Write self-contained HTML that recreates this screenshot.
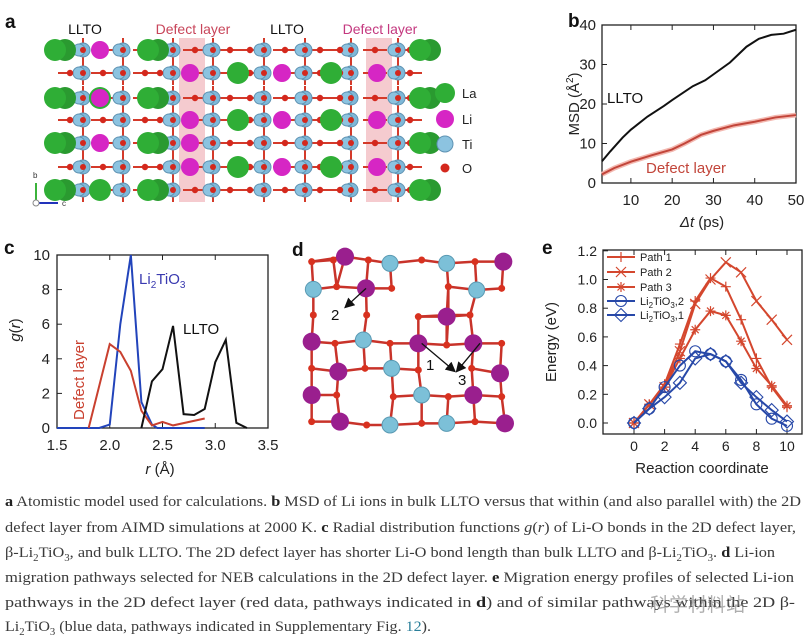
<!DOCTYPE html>
<html><head><meta charset="utf-8">
<style>
html,body{margin:0;padding:0;background:#fff;}
#wrap{position:relative;width:807px;height:644px;overflow:hidden;font-family:"Liberation Sans",Arial,sans-serif;}
svg text{font-family:"Liberation Sans",Arial,sans-serif;}
.cap{position:absolute;left:5px;white-space:nowrap;font-family:"Liberation Serif","Noto Serif CJK SC",serif;font-size:15px;color:#3a3a3a;transform-origin:0 50%;line-height:20px;}
.cap b{color:#222;}
.wm{position:absolute;left:650px;top:590px;font-family:"Noto Sans CJK SC",sans-serif;font-size:19px;color:rgba(120,120,120,0.6);}
</style></head><body>
<div id="wrap">
<svg id="fig" width="807" height="480" viewBox="0 0 807 480" style="position:absolute;left:0;top:0">
  <g id="pa"></g>
  <g id="pb"></g>
  <g id="pc"></g>
  <g id="pd"></g>
  <g id="pe"></g>
</svg>
<div class="cap" style="top:492px"><b>a</b> Atomistic model used for calculations. <b>b</b> MSD of Li ions in bulk LLTO versus that within (and also parallel with) the 2D</div>
<div class="cap" style="top:518px">defect layer from AIMD simulations at 2000 K. <b>c</b> Radial distribution functions <i>g</i>(<i>r</i>) of Li-O bonds in the 2D defect layer,</div>
<div class="cap" style="top:543px">β-Li<sub style="font-size:10px">2</sub>TiO<sub style="font-size:10px">3</sub>, and bulk LLTO. The 2D defect layer has shorter Li-O bond length than bulk LLTO and β-Li<sub style="font-size:10px">2</sub>TiO<sub style="font-size:10px">3</sub>. <b>d</b> Li-ion</div>
<div class="cap" style="top:568px">migration pathways selected for NEB calculations in the 2D defect layer. <b>e</b> Migration energy profiles of selected Li-ion</div>
<div class="cap" style="top:593px">pathways in the 2D defect layer (red data, pathways indicated in <b>d</b>) and of similar pathways within the 2D β-</div>
<div class="cap" style="top:617px">Li<sub style="font-size:10px">2</sub>TiO<sub style="font-size:10px">3</sub> (blue data, pathways indicated in Supplementary Fig. <span style="color:#2a7f9a">12</span>).</div>
<div class="wm">科学材料站</div>
</div>
<script>
var NS="http://www.w3.org/2000/svg";
function el(parent,tag,attrs,txt){var e=document.createElementNS(NS,tag);for(var k in attrs)e.setAttribute(k,attrs[k]);if(txt!==undefined)e.textContent=txt;parent.appendChild(e);return e;}

/* ---------- Panel b data ---------- */
var bTicksX=[10,20,30,40,50];
var bTicksY=[0,10,20,30,40];
var bLltoT=[3,5,8,10,14,18,20,25,28,30,34,38,41,44,47,50];
var bLltoMsd=[5.5,8,11.5,13.5,16.8,19.5,21,24.5,26,27.5,30.5,34.5,36.5,37.5,37.8,38.8];
var bDefT=[3,6,10,15,20,23,27,30,35,40,45,50];
var bDefMsd=[2.2,3.8,5.4,7,8.5,10,12.2,13.2,14.6,15.5,16.6,17.2];

/* ---------- Panel c data ---------- */
var cTicksX=[1.5,2.0,2.5,3.0,3.5];
var cTicksY=[0,2,4,6,8,10];
var cLiR=[1.5,1.9,2.0,2.1,2.2,2.3,2.4,2.45,2.9];
var cLiG=[0,0,0.2,6,10,1.5,0.2,0,0];
var cDefR=[1.8,2.0,2.1,2.2,2.3,2.4,2.5,2.6,2.9];
var cDefG=[0,4.85,4.4,3.3,1,0.15,0.35,0.15,0.55];
var cLltoR=[2.3,2.4,2.5,2.6,2.7,2.8,2.9,3.0,3.1,3.2,3.3];
var cLltoG=[0,2.7,3.4,5.9,0.8,0.75,1.1,3.8,5.1,0.3,0];

/* ---------- Panel e data ---------- */
var eTicksX=[0,2,4,6,8,10];
var eTicksY=[0.0,0.2,0.4,0.6,0.8,1.0,1.2];
var eCoord=[0,1,2,3,4,5,6,7,8,9,10];
var ePath1=[0,0.13,0.27,0.55,0.85,1.01,0.95,0.72,0.45,0.25,0.11];
var ePath2=[0,0.13,0.25,0.5,0.83,1.0,1.12,1.05,0.85,0.72,0.58];
var ePath3=[0,0.13,0.25,0.45,0.65,0.78,0.75,0.57,0.38,0.26,0.12];
var eLi2=[0,0.1,0.25,0.4,0.5,0.48,0.43,0.3,0.13,0.03,-0.02];
var eLi1=[0,0.1,0.18,0.28,0.45,0.48,0.43,0.28,0.18,0.09,0.01];

function pts(xs,ys,fx,fy){return xs.map(function(x,i){return fx(x)+","+fy(ys[i]);}).join(" ");}

/* ---------- Panel a (structure illustration) ---------- */
(function(){
  var g=document.getElementById('pa');
  var t=el(g,'text',{x:5,y:28,'font-size':19,'font-weight':'bold',fill:'#111'},'a');
  
  [[85,'LLTO','#111'],[193,'Defect layer','#c8455a'],[287,'LLTO','#111'],[380,'Defect layer','#c4387f']].forEach(function(d){
    var e=el(g,'text',{x:d[0],y:34,'font-size':14,'text-anchor':'middle',fill:d[2]},d[1]);
    
  });
  [[179,205],[366,392]].forEach(function(b){
    var r=el(g,'rect',{x:b[0],y:38,width:b[1]-b[0],height:164,fill:'#f2b9bf',opacity:0.75});
    
  });
  var rows=[50,73,98,120,143,167,190];
  var tiCols=[83,123,173,213,264,305,351,398];
  var oCols=[70,103,145,160,195,230,250,285,320,340,375,410];
  rows.forEach(function(y,ri){
    oCols.forEach(function(x){el(g,'line',{x1:x-12,y1:y,x2:x+12,y2:y,stroke:'#d43a2a','stroke-width':2});});
    tiCols.forEach(function(x){el(g,'line',{x1:x,y1:y-12,x2:x,y2:y+12,stroke:'#d43a2a','stroke-width':2});});
  });
  rows.forEach(function(y,ri){
    tiCols.forEach(function(x){
      el(g,'circle',{cx:x,cy:y,r:7,fill:'#7fb8d8',stroke:'#5f93b3','stroke-width':1});
      el(g,'circle',{cx:x-4,cy:y,r:6,fill:'#8cc3e0',stroke:'#5f93b3','stroke-width':1});
      el(g,'circle',{cx:x,cy:y,r:3,fill:'#d4281d'});
    });
    oCols.forEach(function(x){el(g,'circle',{cx:x,cy:y,r:3.2,fill:'#d4281d'});});
  });
  var big=[];
  [0,2,4,6].forEach(function(ri){big.push([55,rows[ri],'g'],[148,rows[ri],'g'],[100,rows[ri],ri%4==0?'m':'g'],[420,rows[ri],'g']);});
  [1,3,5].forEach(function(ri){big.push([238,rows[ri],'g'],[282,rows[ri],'m'],[331,rows[ri],'g'],[190,rows[ri],'m'],[377,rows[ri],'m']);});
  big.push([100,98,'m'],[190,143,'m']);
  big.forEach(function(b){
    var col=b[2]=='g'?'#2fae36':'#d626c4';
    var r=b[2]=='g'?11:9;
    if(b[2]=='g'&&(b[0]==55||b[0]==148||b[0]==420)){el(g,'circle',{cx:b[0]+10,cy:b[1],r:r,fill:'#2a9a30'});}
    el(g,'circle',{cx:b[0],cy:b[1],r:r,fill:col});
  });
  el(g,'line',{x1:36,y1:203,x2:36,y2:183,stroke:'#3bb33b','stroke-width':2});
  el(g,'line',{x1:36,y1:203,x2:58,y2:203,stroke:'#2233bb','stroke-width':2});
  el(g,'circle',{cx:36,cy:203,r:3,fill:'#fff',stroke:'#888'});
  el(g,'text',{x:33,y:178,'font-size':8,fill:'#333'},'b');
  el(g,'text',{x:62,y:206,'font-size':8,fill:'#333'},'c');
  var leg=[[93,'La','#2fae36',10],[119,'Li','#d626c4',9],[144,'Ti','#8cc3e0',8],[168,'O','#d4281d',4.5]];
  leg.forEach(function(l){
    var c=el(g,'circle',{cx:445,cy:l[0],r:l[3],fill:l[2],stroke:l[1]=='Ti'?'#5f93b3':'none'});
    
    var tx=el(g,'text',{x:462,y:l[0]+5,'font-size':13,fill:'#222'},l[1]);
    
  });
})();

/* ---------- Panel b ---------- */
(function(){
  var g=document.getElementById('pb');
  var L=602,R=796,T=25,B=183;
  function fx(v){return L+(v-3)/47*(R-L);}
  function fy(v){return B-v/40*(B-T);}
  var t=el(g,'text',{x:568,y:27,'font-size':19,'font-weight':'bold',fill:'#111'},'b');
  
  var fr=el(g,'rect',{x:L,y:T,width:R-L,height:B-T,fill:'none',stroke:'#222','stroke-width':1.3});
  
  bTicksX.forEach(function(v){
    el(g,'line',{x1:fx(v),y1:B,x2:fx(v),y2:B-5,stroke:'#222'});
    el(g,'line',{x1:fx(v),y1:T,x2:fx(v),y2:T+5,stroke:'#222'});
    var e=el(g,'text',{x:fx(v),y:B+22,'font-size':15,'text-anchor':'middle',fill:'#222'},v);
    
  });
  bTicksY.forEach(function(v){
    el(g,'line',{x1:L,y1:fy(v),x2:L+5,y2:fy(v),stroke:'#222'});
    var e=el(g,'text',{x:L-6,y:fy(v)+5,'font-size':15,'text-anchor':'end',fill:'#222'},v);
    
  });
  var yt=el(g,'text',{x:0,y:0,'font-size':15,'text-anchor':'middle',fill:'#222',transform:'translate(579,104) rotate(-90)'});
  yt.innerHTML='MSD (Å<tspan dy="-6" font-size="10">2</tspan><tspan dy="6">)</tspan>';
  
  var xt=el(g,'text',{x:702,y:227,'font-size':15,'text-anchor':'middle',fill:'#222'});
  xt.innerHTML='<tspan font-style="italic">Δt</tspan> (ps)';
  
  var h=el(g,'polyline',{points:pts(bDefT,bDefMsd,fx,fy),fill:'none',stroke:'#f3b8b0','stroke-width':5});
  
  var l1=el(g,'polyline',{points:pts(bDefT,bDefMsd,fx,fy),fill:'none',stroke:'#c2453a','stroke-width':2});
  
  var l2=el(g,'polyline',{points:pts(bLltoT,bLltoMsd,fx,fy),fill:'none',stroke:'#111','stroke-width':2});
  
  var a=el(g,'text',{x:607,y:103,'font-size':15,fill:'#111'},'LLTO');
  
  var d=el(g,'text',{x:646,y:173,'font-size':15,fill:'#c2453a'},'Defect layer');
  
})();

/* ---------- Panel c ---------- */
(function(){
  var g=document.getElementById('pc');
  var L=57,R=268,T=255,B=428;
  function fx(v){return L+(v-1.5)/2*(R-L);}
  function fy(v){return B-v/10*(B-T);}
  var t=el(g,'text',{x:4,y:254,'font-size':19,'font-weight':'bold',fill:'#111'},'c');
  
  var fr=el(g,'rect',{x:L,y:T,width:R-L,height:B-T,fill:'none',stroke:'#222','stroke-width':1.3});
  
  cTicksX.forEach(function(v){
    el(g,'line',{x1:fx(v),y1:B,x2:fx(v),y2:B-5,stroke:'#222'});
    el(g,'line',{x1:fx(v),y1:T,x2:fx(v),y2:T+5,stroke:'#222'});
    var e=el(g,'text',{x:fx(v),y:B+22,'font-size':15,'text-anchor':'middle',fill:'#222'},v.toFixed(1));
    
  });
  cTicksY.forEach(function(v){
    el(g,'line',{x1:L,y1:fy(v),x2:L+5,y2:fy(v),stroke:'#222'});
    var e=el(g,'text',{x:L-7,y:fy(v)+5,'font-size':15,'text-anchor':'end',fill:'#222'},v);
    
  });
  var yt=el(g,'text',{x:0,y:0,'font-size':15,'text-anchor':'middle',fill:'#222',transform:'translate(20,330) rotate(-90)'});
  yt.innerHTML='<tspan font-style="italic">g</tspan>(<tspan font-style="italic">r</tspan>)';
  
  var xt=el(g,'text',{x:160,y:474,'font-size':15,'text-anchor':'middle',fill:'#222'});
  xt.innerHTML='<tspan font-style="italic">r</tspan> (Å)';
  
  var a=el(g,'polyline',{points:pts(cLiR,cLiG,fx,fy),fill:'none',stroke:'#2244bb','stroke-width':2});
  
  var b=el(g,'polyline',{points:pts(cDefR,cDefG,fx,fy),fill:'none',stroke:'#c9402f','stroke-width':2});
  
  var c=el(g,'polyline',{points:pts(cLltoR,cLltoG,fx,fy),fill:'none',stroke:'#111','stroke-width':2});
  
  var l1=el(g,'text',{x:139,y:284,'font-size':15,fill:'#3a3ab0'});
  l1.innerHTML='Li<tspan dy="4" font-size="10">2</tspan><tspan dy="-4">TiO</tspan><tspan dy="4" font-size="10">3</tspan>';
  
  var l2=el(g,'text',{x:183,y:334,'font-size':15,fill:'#111'},'LLTO');
  
  var l3=el(g,'text',{x:0,y:0,'font-size':15,'text-anchor':'middle',fill:'#c9402f',transform:'translate(84,380) rotate(-90)'},'Defect layer');
  
})();

/* ---------- Panel d ---------- */
(function(){
  var g=document.getElementById('pd');
  var t=el(g,'text',{x:292,y:256,'font-size':19,'font-weight':'bold',fill:'#111'},'d');
  
  function P(a){return [a[0]/3+290,a[1]/3+240];}
  var purple=[[165,50],[640,65],[228,145],[470,230],[65,305],[385,310],[550,310],[145,395],[630,400],[65,465],[550,465],[150,545],[645,550]].map(P);
  var cyan=[[300,70],[470,70],[70,148],[560,150],[220,300],[305,385],[395,465],[300,555],[470,550]].map(P);
  var ox=[[65,65],[130,60],[235,60],[395,60],[555,65],[140,140],[305,145],[475,140],[635,145],[70,225],[230,225],[385,230],[475,225],[540,225],[135,310],[300,310],[470,315],[635,310],[65,385],[225,385],[385,390],[545,385],[65,545],[230,555],[395,550],[555,545],[310,470],[475,470],[635,470],[140,465]].map(P);
  var all=purple.concat(cyan).concat(ox);
  for(var i=0;i<all.length;i++)for(var j=i+1;j<all.length;j++){
    var dx=Math.abs(all[i][0]-all[j][0]),dy=Math.abs(all[i][1]-all[j][1]);
    if((dx<34&&dy<9)||(dy<34&&dx<9)){
      var bl=el(g,'line',{x1:all[i][0],y1:all[i][1],x2:all[j][0],y2:all[j][1],stroke:'#c8332a','stroke-width':2.5});
      
    }
  }
  ox.forEach(function(p){var c=el(g,'circle',{cx:p[0],cy:p[1],r:3.5,fill:'#d8311f'});});
  cyan.forEach(function(p){var c=el(g,'circle',{cx:p[0],cy:p[1],r:8,fill:'#7cc0d8',stroke:'#5a9ab3'});});
  purple.forEach(function(p){var c=el(g,'circle',{cx:p[0],cy:p[1],r:9,fill:'#9a1f8e'});});
  el(g,'defs',{}).innerHTML='<marker id="ah" markerWidth="8" markerHeight="8" refX="6" refY="4" orient="auto"><path d="M0,0 L8,4 L0,8 z" fill="#111"/></marker>';
  [[[228,145],[168,200]],[[395,310],[492,392]],[[570,310],[502,392]]].forEach(function(a){
    var s=P(a[0]),e=P(a[1]);
    var ar=el(g,'line',{x1:s[0],y1:s[1],x2:e[0],y2:e[1],stroke:'#111','stroke-width':1.3,'marker-end':'url(#ah)'});
    
  });
  [[331,320,'2'],[426,370,'1'],[458,385,'3']].forEach(function(l){
    var e=el(g,'text',{x:l[0],y:l[1],'font-size':15,fill:'#111'},l[2]);
    
  });
})();

/* ---------- Panel e ---------- */
(function(){
  var g=document.getElementById('pe');
  var L=603,R=802,T=250,B=434;
  function fx(v){return 634+v*15.3;}
  function fy(v){return 423-v/0.2*28.7;}
  var t=el(g,'text',{x:542,y:254,'font-size':19,'font-weight':'bold',fill:'#111'},'e');
  
  var fr=el(g,'rect',{x:L,y:T,width:R-L,height:B-T,fill:'none',stroke:'#222','stroke-width':1.3});
  
  eTicksX.forEach(function(v){
    el(g,'line',{x1:fx(v),y1:B,x2:fx(v),y2:B-5,stroke:'#222'});
    el(g,'line',{x1:fx(v),y1:T,x2:fx(v),y2:T+5,stroke:'#222'});
    var e=el(g,'text',{x:fx(v),y:B+17,'font-size':14,'text-anchor':'middle',fill:'#222'},v);
    
  });
  eTicksY.forEach(function(v){
    el(g,'line',{x1:L,y1:fy(v),x2:L+5,y2:fy(v),stroke:'#222'});
    var e=el(g,'text',{x:L-6,y:fy(v)+5,'font-size':14,'text-anchor':'end',fill:'#222'},v.toFixed(1));
    
  });
  var yt=el(g,'text',{x:0,y:0,'font-size':15,'text-anchor':'middle',fill:'#222',transform:'translate(556,342) rotate(-90)'},'Energy (eV)');
  
  var xt=el(g,'text',{x:702,y:473,'font-size':15,'text-anchor':'middle',fill:'#222'},'Reaction coordinate');
  
  var RED='#d4472e',BLUE='#2748a8';
  function marker(type,x,y,col){
    var s=5;
    if(type=='plus'){el(g,'path',{d:'M'+(x-s)+','+y+'h'+2*s+'M'+x+','+(y-s)+'v'+2*s,stroke:col,'stroke-width':1.2,fill:'none'});}
    else if(type=='x'){el(g,'path',{d:'M'+(x-s)+','+(y-s)+'l'+2*s+','+2*s+'M'+(x-s)+','+(y+s)+'l'+2*s+','+(-2*s),stroke:col,'stroke-width':1.2,fill:'none'});}
    else if(type=='star'){el(g,'path',{d:'M'+(x-s)+','+y+'h'+2*s+'M'+(x-s*0.7)+','+(y-s*0.7)+'l'+1.4*s+','+1.4*s+'M'+(x-s*0.7)+','+(y+s*0.7)+'l'+1.4*s+','+(-1.4*s)+'M'+x+','+(y-s)+'v'+2*s,stroke:col,'stroke-width':1.2,fill:'none'});}
    else if(type=='circle'){el(g,'circle',{cx:x,cy:y,r:5.5,stroke:col,'stroke-width':1.1,fill:'none'});}
    else if(type=='diamond'){el(g,'path',{d:'M'+x+','+(y-6.5)+'l6.5,6.5l-6.5,6.5l-6.5,-6.5z',stroke:col,'stroke-width':1.1,fill:'none'});}
  }
  var series=[[ePath1,'plus',RED,'path-1'],[ePath2,'x',RED,'path-2'],[ePath3,'star',RED,'path-3'],[eLi2,'circle',BLUE,'li2tio3-2'],[eLi1,'diamond',BLUE,'li2tio3-1']];
  series.forEach(function(s){
    var ln=el(g,'polyline',{points:pts(eCoord,s[0],fx,fy),fill:'none',stroke:s[2],'stroke-width':2});
    
    eCoord.forEach(function(c,i){marker(s[1],fx(c),fy(s[0][i]),s[2]);});
  });
  var labs=[['Path 1',null],['Path 2',null],['Path 3',null],['Li<tspan dy="3" font-size="8">2</tspan><tspan dy="-3">TiO</tspan><tspan dy="3" font-size="8">3</tspan><tspan dy="-3">,2</tspan>',null],['Li<tspan dy="3" font-size="8">2</tspan><tspan dy="-3">TiO</tspan><tspan dy="3" font-size="8">3</tspan><tspan dy="-3">,1</tspan>',null]];
  var ys=[257,272,287,301,315];
  series.forEach(function(s,i){
    var y=ys[i];
    var ll=el(g,'line',{x1:607,y1:y,x2:635,y2:y,stroke:s[2],'stroke-width':2});
    
    marker(s[1],621,y,s[2]);
    var tx=el(g,'text',{x:640,y:y+4,'font-size':11,fill:'#222'});
    tx.innerHTML=labs[i][0];
    
  });
})();

/* fit caption lines to widths */
var capW=[796,791,770,789,790,426];
document.querySelectorAll('.cap').forEach(function(c,i){
  var w=c.getBoundingClientRect().width;
  if(w>0)c.style.transform='scaleX('+(capW[i]/w)+')';
});
</script>
</body></html>
